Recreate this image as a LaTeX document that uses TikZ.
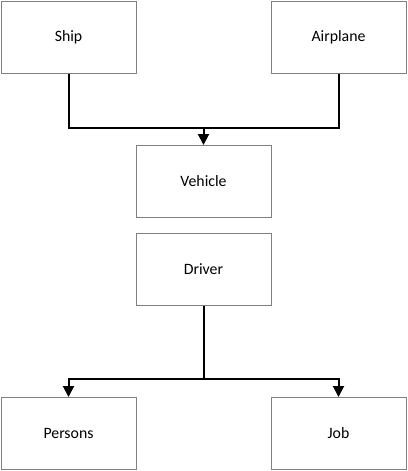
\documentclass[tikz,border=0pt]{standalone}
\usepackage{fontspec}
\setmainfont{Carlito}
\usetikzlibrary{arrows.meta}
\tikzset{box/.style={draw=gray, line width=1pt, minimum width=135pt, minimum height=72pt, inner sep=0pt, font=\fontsize{15.8}{18}\selectfont},
  link/.style={line width=2pt, black},
  arr/.style={link, -{Triangle[width=11pt,length=11pt]}}}
\begin{document}
\begin{tikzpicture}[x=1pt, y=-1pt]
    \useasboundingbox (0,0) rectangle (407,471);
    \node [box] (ship) at (68.5,37) {Ship};
    \node [box] (airplane) at (338.5,37) {Airplane};
    \node [box] (vehicle) at (203.5,181.5) {Vehicle};
    \node [box] (driver) at (203.5,269) {Driver};
    \node [box] (persons) at (68.5,433.5) {Persons};
    \node [box] (job) at (338.5,433.5) {Job};

    \coordinate (top) at (203.5,128);
    \draw [link] (ship) |- (top) -| (airplane);
    \draw [arr] (top) -- (vehicle);

    \coordinate (bottom) at (203.5,379);
    \draw [link] (driver) -- (bottom);
    \draw [arr] (bottom) -| (persons);
    \draw [arr] (bottom) -| (job);
  \end{tikzpicture}
\end{document}
